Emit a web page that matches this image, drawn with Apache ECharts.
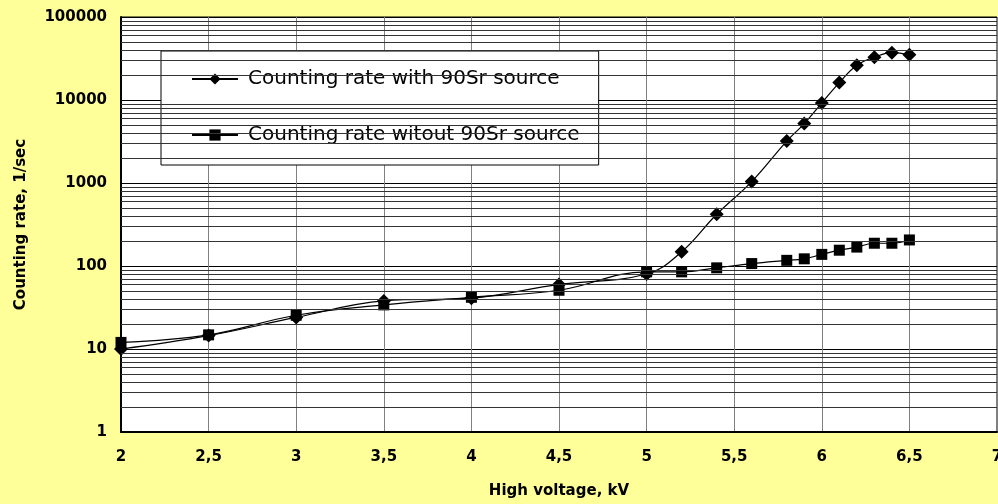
<!DOCTYPE html>
<html>
<head>
<meta charset="utf-8">
<script src="https://cdn.jsdelivr.net/npm/echarts@6/dist/echarts.min.js"></script>
<style>
  html, body { margin: 0; padding: 0; background: #FFFF99; }
  #chart { width: 998px; height: 504px; }
</style>
</head>
<body>
<div id="chart"></div>
<script>
// high voltage, kV
const voltages = [2, 2.5, 3, 3.5, 4, 4.5, 5, 5.2, 5.4, 5.6, 5.8, 5.9, 6.0, 6.1, 6.2, 6.3, 6.4, 6.5];
// counting rate, 1/sec
const withSource = [10, 14.5, 24, 38, 41, 60, 80, 148, 420, 1040, 3200, 5200, 9200, 16200, 26200, 32700, 37200, 35000];
const withoutSource = [12, 14.8, 25.5, 34, 42, 51, 85, 85, 95, 107, 117, 122, 138, 155, 169, 188, 188, 206];

const seriesNames = ['Counting rate with 90Sr source', 'Counting rate witout 90Sr source'];

// minor log grid lines: 2..9 of each decade
const decades = [1, 10, 100, 1000, 10000];
const minorSteps = [2, 3, 4, 5, 6, 7, 8, 9];

const FONT = 'DejaVu Sans';

const chart = echarts.init(document.getElementById('chart'));

const toPairs = (xs, ys) => xs.map((x, i) => [x, ys[i]]);

const minorLines = [];
decades.forEach(d => minorSteps.forEach(m => minorLines.push({ yAxis: d * m })));

chart.setOption({
  backgroundColor: '#FFFF99',
  animation: false,
  grid: {
    left: 121, right: 1, top: 17, bottom: 72,
    outerBoundsMode: 'none',
    containLabel: false,
    show: true,
    backgroundColor: '#fff',
    borderColor: '#000',
    borderWidth: 1
  },
  legend: {
    orient: 'vertical',
    left: 161,
    top: 51,
    backgroundColor: '#fff',
    borderColor: '#000',
    borderWidth: 1,
    padding: [18, 19, 20, 30],
    itemGap: 36,
    itemWidth: 46,
    itemHeight: 14,
    data: seriesNames,
    textStyle: {
      fontFamily: FONT,
      fontSize: 20,
      color: '#000',
      lineHeight: 20,
      padding: [0, 0, 0, 5]
    }
  },
  xAxis: {
    type: 'value',
    min: 2,
    max: 7,
    interval: 0.5,
    name: 'High voltage, kV',
    nameLocation: 'middle',
    nameGap: 52,
    nameTextStyle: { fontFamily: FONT, fontSize: 15, fontWeight: 'bold', color: '#000' },
    axisLine: { lineStyle: { color: '#000', width: 2 } },
    axisTick: { show: false },
    axisLabel: {
      margin: 18,
      fontFamily: FONT,
      fontSize: 15,
      fontWeight: 'bold',
      color: '#000',
      formatter: v => String(v).replace('.', ',')
    },
    splitLine: { show: true, lineStyle: { color: '#808080', width: 1 } }
  },
  yAxis: {
    type: 'log',
    logBase: 10,
    min: 1,
    max: 100000,
    splitNumber: 5,
    name: 'Counting rate, 1/sec',
    nameLocation: 'middle',
    nameGap: 92,
    nameTextStyle: { fontFamily: FONT, fontSize: 15, fontWeight: 'bold', color: '#000' },
    axisLine: { show: true, lineStyle: { color: '#000', width: 2 } },
    axisTick: { show: false },
    axisLabel: {
      margin: 14,
      fontFamily: FONT,
      fontSize: 15,
      fontWeight: 'bold',
      color: '#000',
      formatter: v => String(Math.round(v))
    },
    splitLine: { show: true, lineStyle: { color: '#000', width: 1 } }
  },
  series: [
    {
      type: 'line',
      name: 'minor',
      data: [],
      z: 1,
      silent: true,
      markLine: {
        silent: true,
        symbol: 'none',
        label: { show: false },
        lineStyle: { color: '#333', width: 1, type: 'solid' },
        emphasis: { disabled: true },
        data: minorLines
      }
    },
    {
      type: 'line',
      name: seriesNames[0],
      data: toPairs(voltages, withSource),
      smooth: 0.4,
      symbol: 'diamond',
      symbolSize: 14,
      itemStyle: { color: '#000' },
      lineStyle: { color: '#000', width: 1.2 },
      z: 3
    },
    {
      type: 'line',
      name: seriesNames[1],
      data: toPairs(voltages, withoutSource),
      smooth: 0.4,
      symbol: 'rect',
      symbolSize: 11,
      itemStyle: { color: '#000' },
      lineStyle: { color: '#000', width: 1.2 },
      z: 3
    }
  ]
});
</script>
</body>
</html>
